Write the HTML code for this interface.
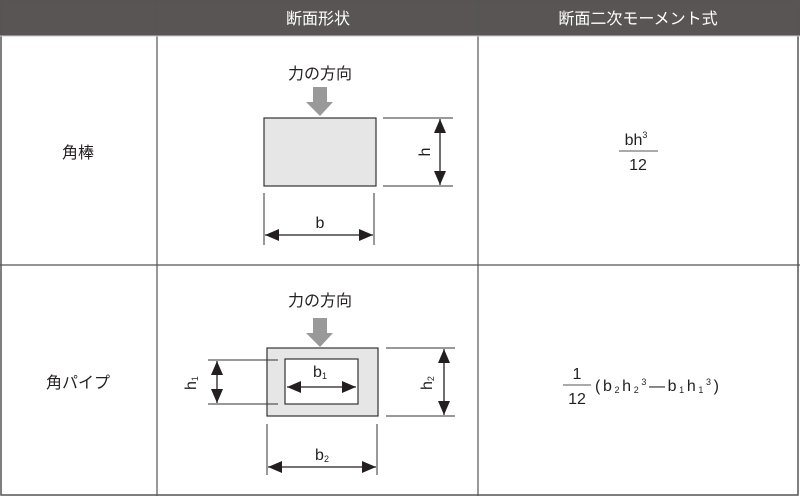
<!DOCTYPE html>
<html><head><meta charset="utf-8"><style>
html,body{margin:0;padding:0;background:#fff}
svg{display:block}
text{font-family:"Liberation Sans","Noto Sans CJK JP",sans-serif;fill:#231f20}
</style></head><body>
<svg width="800" height="497" viewBox="0 0 800 497" xmlns="http://www.w3.org/2000/svg">
<defs>
<marker id="a" markerWidth="14" markerHeight="12" refX="14" refY="6" orient="auto" markerUnits="userSpaceOnUse"><path d="M0,0L14,6L0,12z" fill="#231f20"/></marker>
<marker id="s" markerWidth="14" markerHeight="12" refX="0" refY="6" orient="auto" markerUnits="userSpaceOnUse"><path d="M14,0L0,6L14,12z" fill="#231f20"/></marker>
</defs>
<rect x="0" y="0" width="800" height="36" fill="#595555"/>
<rect x="1" y="1" width="797" height="494" fill="none" stroke="#555" stroke-width="1.5"/>
<line x1="157" y1="0" x2="157" y2="496" stroke="#555" stroke-width="1.2"/>
<line x1="478" y1="0" x2="478" y2="496" stroke="#555" stroke-width="1.2"/>
<line x1="0" y1="36" x2="800" y2="36" stroke="#ccc" stroke-width="1"/>
<line x1="0" y1="265" x2="800" y2="265" stroke="#555" stroke-width="1.2"/>
<text x="318" y="24" font-size="16" text-anchor="middle" style="fill:#fff">断面形状</text>
<text x="638" y="24" font-size="16" text-anchor="middle" style="fill:#fff">断面二次モーメント式</text>
<text x="78" y="158" font-size="16" text-anchor="middle">角棒</text>
<text x="78" y="388" font-size="16" text-anchor="middle">角パイプ</text>

<!-- row1 -->
<text x="320" y="79" font-size="16" text-anchor="middle">力の方向</text>
<path d="M313,87H327V102H333L320,116L306,102H313z" fill="#999"/>
<rect x="264" y="118" width="112" height="68" fill="#e6e6e6" stroke="#333" stroke-width="1.2"/>
<g stroke="#333" stroke-width="1">
<line x1="383" y1="118" x2="453" y2="118"/><line x1="383" y1="186" x2="453" y2="186"/>
<line x1="264" y1="193" x2="264" y2="245"/><line x1="374" y1="193" x2="374" y2="245"/>
</g>
<line x1="440" y1="119" x2="440" y2="185" stroke="#231f20" stroke-width="1.3" marker-start="url(#s)" marker-end="url(#a)"/>
<line x1="265" y1="235" x2="373" y2="235" stroke="#231f20" stroke-width="1.3" marker-start="url(#s)" marker-end="url(#a)"/>
<text x="0" y="0" font-size="16" text-anchor="middle" transform="translate(430,152) rotate(-90)">h</text>
<text x="320" y="228" font-size="16" text-anchor="middle">b</text>

<!-- row2 -->
<text x="320" y="306" font-size="16" text-anchor="middle">力の方向</text>
<path d="M313,318H327V333H333L320,347L306,333H313z" fill="#999"/>
<rect x="267" y="348" width="111" height="68" fill="#e6e6e6" stroke="#333" stroke-width="1.2"/>
<rect x="285" y="359" width="73" height="45" fill="#fff" stroke="#333" stroke-width="1.2"/>
<g stroke="#333" stroke-width="1">
<line x1="208" y1="360" x2="278" y2="360"/><line x1="208" y1="404" x2="278" y2="404"/>
<line x1="386" y1="348" x2="455" y2="348"/><line x1="386" y1="416" x2="455" y2="416"/>
<line x1="267" y1="424" x2="267" y2="475"/><line x1="377" y1="424" x2="377" y2="475"/>
</g>
<line x1="217" y1="361" x2="217" y2="403" stroke="#231f20" stroke-width="1.3" marker-start="url(#s)" marker-end="url(#a)"/>
<line x1="444" y1="349" x2="444" y2="415" stroke="#231f20" stroke-width="1.3" marker-start="url(#s)" marker-end="url(#a)"/>
<line x1="287" y1="387" x2="356" y2="387" stroke="#231f20" stroke-width="1.3" marker-start="url(#s)" marker-end="url(#a)"/>
<line x1="268" y1="467" x2="376" y2="467" stroke="#231f20" stroke-width="1.3" marker-start="url(#s)" marker-end="url(#a)"/>
<text font-size="16" transform="translate(196,383) rotate(-90)" text-anchor="middle">h<tspan font-size="9" dy="2">1</tspan></text>
<text font-size="16" transform="translate(432,383) rotate(-90)" text-anchor="middle">h<tspan font-size="9" dy="2">2</tspan></text>
<text x="320" y="377" font-size="16" text-anchor="middle">b<tspan font-size="9" dy="2">1</tspan></text>
<text x="322" y="460" font-size="16" text-anchor="middle">b<tspan font-size="9" dy="2">2</tspan></text>

<!-- formulas -->
<text x="636" y="145" font-size="16" text-anchor="middle">bh<tspan font-size="9" dy="-7">3</tspan></text>
<line x1="619" y1="151" x2="658" y2="151" stroke="#555" stroke-width="1"/>
<text x="638" y="170" font-size="16" text-anchor="middle">12</text>
<text x="577" y="379" font-size="16" text-anchor="middle">1</text>
<line x1="563" y1="385" x2="591" y2="385" stroke="#555" stroke-width="1"/>
<text x="577" y="404" font-size="16" text-anchor="middle">12</text>
<text x="595" y="391" font-size="16" textLength="124" lengthAdjust="spacing">(b<tspan font-size="9" dy="2">2</tspan><tspan dy="-2">h</tspan><tspan font-size="9" dy="2">2</tspan><tspan font-size="9" dy="-8">3</tspan><tspan dy="6">—b</tspan><tspan font-size="9" dy="2">1</tspan><tspan dy="-2">h</tspan><tspan font-size="9" dy="2">1</tspan><tspan font-size="9" dy="-8">3</tspan><tspan dy="6">)</tspan></text>
</svg>
</body></html>
